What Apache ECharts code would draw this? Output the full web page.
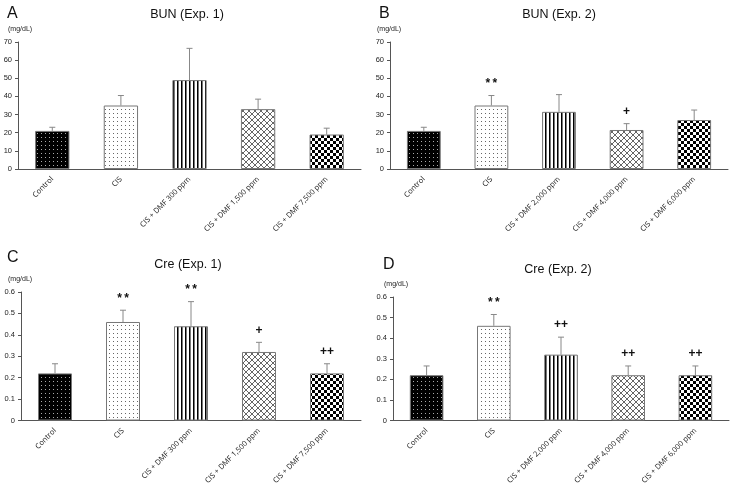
<!DOCTYPE html>
<html><head><meta charset="utf-8">
<script src="https://cdn.jsdelivr.net/npm/echarts@6/dist/echarts.min.js"></script>
<style>html,body{margin:0;padding:0;background:#fff}#c{width:734px;height:487px}</style>
</head><body><div id="c"></div>
<script>
// ---- data ----
const catsExp1 = ['Control', 'CIS', 'CIS + DMF 300 ppm', 'CIS + DMF 1,500 ppm', 'CIS + DMF 7,500 ppm'];
const catsExp2 = ['Control', 'CIS', 'CIS + DMF 2,000 ppm', 'CIS + DMF 4,000 ppm', 'CIS + DMF 6,000 ppm'];

const bunExp1Mean = [21, 35, 49, 33, 19];
const bunExp1Upper = [23, 40.5, 66.5, 38.5, 22.5];
const bunExp1Sig = ['', '', '', '', ''];

const bunExp2Mean = [21, 35, 31.5, 21.5, 27];
const bunExp2Upper = [23, 40.5, 41, 25, 32.5];
const bunExp2Sig = ['', '**', '', '+', ''];

const creExp1Mean = [0.22, 0.46, 0.44, 0.32, 0.22];
const creExp1Upper = [0.265, 0.515, 0.555, 0.365, 0.265];
const creExp1Sig = ['', '**', '**', '+', '++'];

const creExp2Mean = [0.22, 0.46, 0.32, 0.22, 0.22];
const creExp2Upper = [0.265, 0.515, 0.405, 0.265, 0.265];
const creExp2Sig = ['', '**', '++', '++', '++'];

const panelLetters = ['A', 'B', 'C', 'D'];
const panelTitles = ['BUN (Exp. 1)', 'BUN (Exp. 2)', 'Cre (Exp. 1)', 'Cre (Exp. 2)'];
const unitLabel = '(mg/dL)';

// ---- patterns ----
function mk(w, h, draw) {
  const c = document.createElement('canvas'); c.width = w; c.height = h;
  const g = c.getContext('2d'); draw(g); return { image: c, repeat: 'repeat' };
}
const patterns = [
  mk(4, 4, g => { g.fillStyle = '#000'; g.fillRect(0,0,4,4); g.fillStyle = '#aaa'; g.fillRect(1,1,1,1); }),
  mk(4, 4, g => { g.fillStyle = '#fff'; g.fillRect(0,0,4,4); g.fillStyle = '#666'; g.fillRect(1,1,1,1); }),
  mk(4, 4, g => { g.fillStyle = '#fff'; g.fillRect(0,0,4,4); g.fillStyle = '#000'; g.fillRect(1,0,1,4); g.fillStyle = '#777'; g.fillRect(2,0,1,4); }),
  mk(6, 6, g => { g.fillStyle = '#fff'; g.fillRect(0,0,6,6); g.strokeStyle = '#666'; g.lineWidth = 1;
      g.beginPath(); g.moveTo(0,0); g.lineTo(6,6); g.moveTo(6,0); g.lineTo(0,6);
      g.moveTo(-3,3); g.lineTo(3,9); g.moveTo(3,-3); g.lineTo(9,3); g.moveTo(3,-3); g.lineTo(-3,3); g.moveTo(9,3); g.lineTo(3,9); g.stroke(); }),
  mk(6, 6, g => { g.fillStyle = '#fff'; g.fillRect(0,0,6,6); g.fillStyle = '#000'; g.fillRect(0,0,3,3); g.fillRect(3,3,3,3); })
];

const panels = [
  { cats: catsExp1, mean: bunExp1Mean, upper: bunExp1Upper, sig: bunExp1Sig, max: 70, interval: 10, grid: { left: 18, right: 373, top: 42, bottom: 318 } },
  { cats: catsExp2, mean: bunExp2Mean, upper: bunExp2Upper, sig: bunExp2Sig, max: 70, interval: 10, grid: { left: 390, right: 6, top: 42, bottom: 318 } },
  { cats: catsExp1, mean: creExp1Mean, upper: creExp1Upper, sig: creExp1Sig, max: 0.6, interval: 0.1, grid: { left: 21, right: 373, top: 292, bottom: 65 } },
  { cats: catsExp2, mean: creExp2Mean, upper: creExp2Upper, sig: creExp2Sig, max: 0.6, interval: 0.1, grid: { left: 393, right: 5, top: 297, bottom: 66 } }
];

const letterPos = [[2, 1], [374, 1], [2, 245], [378, 252]];
const titlePos = [[182, 3], [554, 3], [183, 253], [553, 258]];
const unitPos = [[3, 21], [372, 21], [3, 271], [379, 276]];

const titles = [];
panels.forEach((p, i) => {
  titles.push({ text: panelLetters[i], left: letterPos[i][0], top: letterPos[i][1], textStyle: { fontFamily: 'Liberation Sans', fontWeight: 'normal', fontSize: 16, color: '#111' } });
  titles.push({ text: panelTitles[i], left: titlePos[i][0], top: titlePos[i][1], textAlign: 'center', textStyle: { fontFamily: 'Liberation Sans', fontWeight: 'normal', fontSize: 12.5, color: '#111' } });
  titles.push({ text: unitLabel, left: unitPos[i][0], top: unitPos[i][1], textStyle: { fontFamily: 'Liberation Sans', fontWeight: 'normal', fontSize: 7, color: '#222' } });
});

const option = {
  animation: false,
  backgroundColor: '#fff',
  title: titles,
  grid: panels.map(p => Object.assign({ containLabel: false }, p.grid)),
  xAxis: panels.map((p, i) => ({
    type: 'category', gridIndex: i, data: p.cats,
    axisLine: { lineStyle: { color: '#555', width: 1 } },
    axisTick: { show: false },
    axisLabel: { rotate: 45, fontSize: 7.5, fontFamily: 'Open Sans', color: '#222', margin: 9, interval: 0 }
  })),
  yAxis: panels.map((p, i) => ({
    type: 'value', gridIndex: i, min: 0, max: p.max, interval: p.interval,
    splitLine: { show: false },
    axisLine: { show: true, lineStyle: { color: '#555', width: 1 } },
    axisTick: { show: true, length: 3, lineStyle: { color: '#555' } },
    axisLabel: { fontSize: 7.5, fontFamily: 'Liberation Sans', color: '#222', margin: 6,
      formatter: v => String(Math.round(v * 10) / 10) }
  })),
  series: []
};

panels.forEach((p, i) => {
  option.series.push({
    type: 'bar', xAxisIndex: i, yAxisIndex: i, barWidth: '50%',
    data: p.mean.map((v, k) => ({ value: v, itemStyle: { color: patterns[k], borderColor: '#777', borderWidth: 1 } }))
  });
  option.series.push({
    type: 'custom', xAxisIndex: i, yAxisIndex: i, z: 5,
    data: p.mean.map((v, k) => [k, v, p.upper[k]]),
    renderItem: (params, api) => {
      const k = api.value(0);
      const a = api.coord([k, api.value(1)]);
      const b = api.coord([k, api.value(2)]);
      const children = [
        { type: 'line', shape: { x1: a[0], y1: a[1], x2: b[0], y2: b[1] }, style: { stroke: '#888', lineWidth: 1 } },
        { type: 'line', shape: { x1: b[0] - 3, y1: b[1], x2: b[0] + 3, y2: b[1] }, style: { stroke: '#888', lineWidth: 1 } }
      ];
      const s = p.sig[k];
      if (s) {
        const shown = s.indexOf('*') >= 0 ? s.split('').join('\u2009') : s;
        children.push({ type: 'text', style: { text: shown, x: b[0], y: b[1] - 6, textAlign: 'center', textVerticalAlign: 'bottom', font: 'bold 12px "Liberation Sans"', fill: '#111' } });
      }
      return { type: 'group', children };
    }
  });
});

const chart = echarts.init(document.getElementById('c'), null, { renderer: 'canvas' });
chart.setOption(option);
</script>
</body></html>
